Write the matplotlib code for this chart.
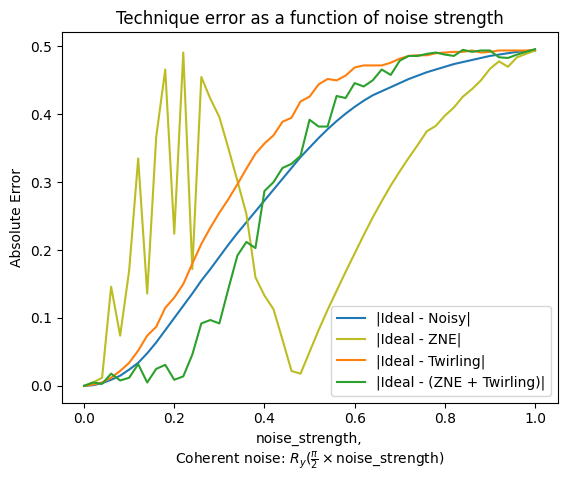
import numpy as np
import matplotlib
matplotlib.use("Agg")
import matplotlib.pyplot as plt

# noise strength, 51 points from 0 to 1
noise_strength = np.linspace(0, 1, 51)

# |Ideal - Noisy|
err_noisy = [0.000, 0.001, 0.004, 0.009, 0.015, 0.024, 0.034, 0.048, 0.064, 0.082,
             0.100, 0.118, 0.136, 0.155, 0.172, 0.190, 0.208, 0.225, 0.241, 0.257,
             0.273, 0.289, 0.305, 0.321, 0.337, 0.351, 0.365, 0.378, 0.390, 0.401,
             0.411, 0.420, 0.428, 0.434, 0.440, 0.446, 0.452, 0.457, 0.462, 0.466,
             0.470, 0.474, 0.477, 0.480, 0.483, 0.486, 0.488, 0.490, 0.492, 0.493,
             0.494]

# |Ideal - ZNE|
err_zne = [0.000, 0.005, 0.012, 0.146, 0.074, 0.170, 0.335, 0.136, 0.367, 0.466,
           0.224, 0.491, 0.172, 0.455, 0.423, 0.396, 0.350, 0.302, 0.253, 0.160,
           0.133, 0.113, 0.068, 0.022, 0.018, 0.050, 0.082, 0.112, 0.140, 0.168,
           0.195, 0.222, 0.248, 0.272, 0.295, 0.316, 0.336, 0.355, 0.375, 0.383,
           0.398, 0.410, 0.426, 0.437, 0.450, 0.467, 0.478, 0.470, 0.484, 0.489,
           0.494]

# |Ideal - Twirling|
err_twirl = [0.000, 0.002, 0.005, 0.012, 0.022, 0.034, 0.052, 0.074, 0.087, 0.115,
             0.130, 0.150, 0.180, 0.209, 0.233, 0.255, 0.275, 0.297, 0.320, 0.342,
             0.357, 0.369, 0.389, 0.395, 0.419, 0.426, 0.444, 0.452, 0.450, 0.457,
             0.469, 0.472, 0.472, 0.472, 0.476, 0.482, 0.486, 0.487, 0.487, 0.490,
             0.491, 0.492, 0.492, 0.494, 0.491, 0.492, 0.494, 0.494, 0.494, 0.494,
             0.495]

# |Ideal - (ZNE + Twirling)|
err_zne_twirl = [0.000, 0.005, 0.003, 0.018, 0.008, 0.012, 0.032, 0.005, 0.025, 0.031,
                 0.009, 0.014, 0.046, 0.092, 0.097, 0.092, 0.143, 0.192, 0.212, 0.203,
                 0.287, 0.300, 0.321, 0.327, 0.339, 0.392, 0.382, 0.382, 0.427, 0.424,
                 0.446, 0.441, 0.450, 0.466, 0.458, 0.479, 0.486, 0.486, 0.489, 0.491,
                 0.488, 0.486, 0.495, 0.492, 0.494, 0.494, 0.484, 0.483, 0.488, 0.492,
                 0.496]

series = [
    (err_noisy,     "|Ideal - Noisy|",              "tab:blue"),
    (err_zne,       "|Ideal - ZNE|",                "tab:olive"),
    (err_twirl,     "|Ideal - Twirling|",           "tab:orange"),
    (err_zne_twirl, "|Ideal - (ZNE + Twirling)|",   "tab:green"),
]

fig = plt.figure(figsize=(5.67, 4.8), dpi=100)
ax = fig.add_axes([0.1085, 0.161, 0.8749, 0.7717])

for vals, lab, col in series:
    ax.plot(noise_strength, vals, label=lab, color=col)

ax.set_title("Technique error as a function of noise strength")
ax.set_xlabel("noise_strength,\nCoherent noise: $R_y(\\frac{\\pi}{2} \\times$noise_strength)")
ax.set_ylabel("Absolute Error")
ax.legend(loc="lower right")

fig.savefig("out.png", dpi=100)
